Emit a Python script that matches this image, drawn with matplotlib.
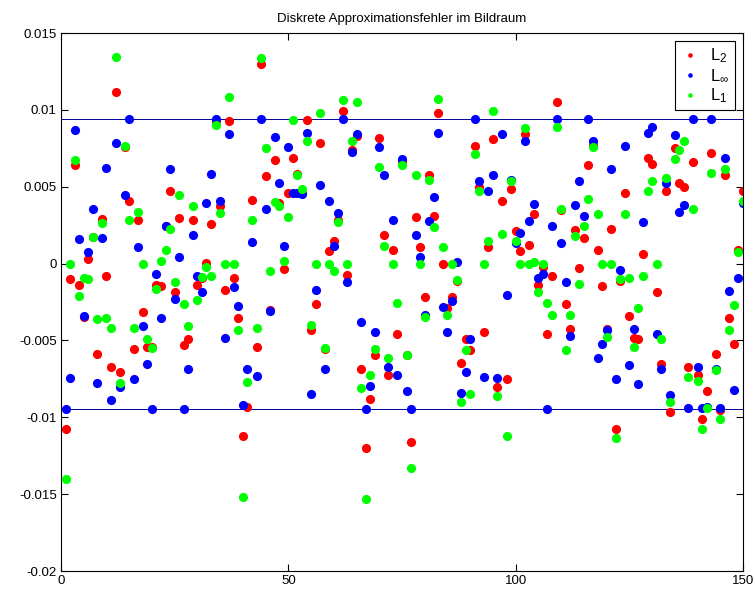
import numpy as np
import matplotlib
matplotlib.use("Agg")
import matplotlib.pyplot as plt

plt.rcParams['font.family'] = ['Liberation Sans', 'DejaVu Sans']
plt.rcParams['mathtext.default'] = 'regular'

# sample index 1..150
n = np.arange(1, 151)

# values in units of 1e-3
err_l2 = [-10.73, -1.00, 6.42, -1.39, -3.47, 0.27, 1.76, -5.87, 2.92, -0.80,
          -6.74, 11.14, -7.08, 7.60, 4.06, -5.57, 2.81, -3.17, -5.43, -5.41,
          -1.42, -1.48, 2.42, 4.70, -1.83, 2.99, -5.30, -4.91, 2.85, -1.42,
          -0.94, 0.05, 2.58, 9.27, 3.77, -1.71, 9.27, -0.96, -3.54, -11.23,
          -9.34, 4.16, -5.46, 13.01, 5.71, -3.01, 6.74, 3.95, -0.34, 4.61,
          6.87, 5.82, 4.57, 9.32, -4.34, -2.63, 7.83, -5.59, 0.82, 1.44,
          2.85, 9.93, -0.73, 7.37, 8.29, -6.83, -12.03, -8.84, -5.94, 8.17,
          1.89, -7.24, 0.87, -4.61, 6.69, -5.98, -11.58, 3.04, 1.05, -2.15,
          5.78, 3.08, 9.77, -0.05, -2.90, -2.15, -1.14, -6.48, -4.91, -5.64,
          7.65, 4.98, -4.45, 1.05, 8.11, -8.04, 4.06, -7.51, 4.86, 2.12,
          0.82, 8.40, 1.21, 3.22, -1.42, -0.23, -4.61, -0.80, 10.53, 3.49,
          -2.63, -4.27, 2.19, -0.27, 1.67, 6.42, 7.72, 0.87, -1.46, -4.27,
          2.28, -10.78, -1.14, 4.57, -3.42, -4.84, -4.89, 0.64, 6.85, 6.46,
          -1.87, -6.55, 4.75, -9.63, 7.53, 5.21, 4.98, -6.71, 6.58, -7.24,
          -10.09, -8.26, 7.21, -5.87, -9.52, 5.78, -3.52, -5.23, 0.91, 4.75]

err_linf = [-9.43, -7.47, 8.70, 1.60, -3.42, 0.73, 3.52, -7.79, 1.64, 6.23,
            -8.90, 7.83, -8.04, 4.47, 9.43, -7.53, 1.10, -4.09, -6.55, -9.43,
            -0.66, -3.52, 2.47, 6.16, -2.28, 0.41, -9.43, -6.89, 1.83, -0.84,
            -1.87, 3.97, 5.82, 9.43, 4.06, -4.84, 8.45, -1.53, -2.74, -9.18,
            -6.85, 1.42, -7.31, 9.43, 3.52, -3.08, 8.24, 5.21, 1.14, 7.60,
            4.57, 4.57, 4.52, 8.52, -8.49, -1.71, 5.09, -6.85, 4.06, 1.16,
            3.26, 9.43, -1.23, 7.26, 8.40, -3.77, -9.43, -7.99, -4.43, 7.60,
            5.78, -6.71, 2.85, -7.28, 6.80, -8.26, -9.43, 1.89, 0.46, -3.36,
            2.74, 4.36, 8.52, -2.85, -4.45, -2.44, 0.11, -8.45, -7.08, -4.89,
            9.43, 5.39, -7.40, 4.75, 5.78, -7.42, 8.40, -2.03, 5.43, 1.32,
            2.01, 7.95, 2.74, 3.90, -0.91, -0.68, -9.43, 2.47, 9.43, 1.32,
            -1.19, -4.73, 3.79, 5.39, 3.11, 9.43, 7.95, -6.16, -5.25, -4.32,
            6.12, -7.53, -0.39, 7.65, -6.60, -4.27, -7.85, 2.69, 8.47, 8.86,
            -4.61, -6.85, 5.21, -8.56, 8.36, 3.38, 3.84, -9.41, 9.43, -6.74,
            -9.41, -9.36, 9.43, -6.85, -9.41, 6.85, -1.76, -8.20, -0.91, 3.95]

err_l1 = [-14.00, 0.00, 6.76, -2.10, -0.91, -1.00, 1.76, -3.61, 2.65, -3.52,
          -4.16, 13.42, -7.76, 7.65, 2.81, -4.22, 3.38, 0.00, -4.91, -5.48,
          -1.64, 0.18, 0.87, 2.28, -1.19, 4.45, -2.63, -4.04, 3.72, -2.37,
          -0.87, -0.21, -0.80, 9.04, 3.26, 0.00, 10.84, 0.00, -4.32, -15.20,
          -7.69, 2.81, -4.22, 13.38, 7.49, -0.50, 4.02, 3.77, 0.18, 3.04,
          9.32, 5.73, 4.86, 7.95, -4.00, 0.00, 9.82, -5.48, 0.00, -0.50,
          2.72, 10.62, 0.00, 7.95, 10.53, -8.08, -15.30, -7.24, -5.53, 6.28,
          1.16, -6.14, 0.00, -2.56, 6.39, -5.94, -13.30, 5.78, 0.00, -3.47,
          5.43, 2.35, 10.68, 1.10, -3.36, 0.00, -1.07, -9.02, -5.64, -8.49,
          7.10, 4.70, 0.00, 1.48, 9.93, -8.61, 1.94, -11.23, 5.39, 1.48,
          0.00, 8.79, 0.00, 0.11, -1.83, 0.00, -2.56, -3.36, 8.86, 3.54,
          -5.64, -3.36, 1.78, -1.30, 2.47, 4.22, 7.56, 3.22, 0.00, -4.75,
          0.00, -11.35, -1.00, 3.20, -0.91, -5.41, -2.90, -0.84, 4.70, 5.37,
          0.00, -4.89, 5.55, -9.02, 6.80, 7.37, 7.95, -7.35, 3.56, -7.65,
          -10.78, -9.41, 5.89, -6.94, -10.09, 6.12, -4.32, -2.67, 0.75, 4.06]

bound = 9.43  # 1e-3

fig = plt.figure(figsize=(7.55, 5.90), dpi=100)
ax = fig.add_axes([61 / 755, 1 - 571 / 590, 682 / 755, 538 / 590])

ms = 6.6
ax.plot(n, np.array(err_l2) * 1e-3, 'o', color=(1, 0, 0), ms=ms, mew=0, label='$L_2$')
ax.plot(n, np.array(err_linf) * 1e-3, 'o', color=(0, 0, 1), ms=ms, mew=0, label=r'$L_\infty$')
ax.plot(n, np.array(err_l1) * 1e-3, 'o', color=(0, 1, 0), ms=ms, mew=0, label='$L_1$')

ax.axhline(bound * 1e-3, color=(0, 0, 0.6), lw=0.7, zorder=1)
ax.axhline(-bound * 1e-3, color=(0, 0, 0.6), lw=0.7, zorder=1)

ax.set_xlim(0, 150)
ax.set_ylim(-0.02, 0.015)
ax.set_xticks([0, 50, 100, 150])
yt = [-0.02, -0.015, -0.01, -0.005, 0, 0.005, 0.01, 0.015]
ax.set_yticks(yt)
ax.set_yticklabels(['-0.02', '-0.015', '-0.01', '-0.005', '0', '0.005', '0.01', '0.015'])
ax.tick_params(direction='in', top=True, right=True, labelsize=9.5, length=5, width=0.8, pad=3)
for s in ax.spines.values():
    s.set_linewidth(0.8)

ax.set_title('Diskrete Approximationsfehler im Bildraum', fontsize=9.5, pad=8)

leg = ax.legend(loc='upper right', fontsize=12, markerscale=0.5, handlelength=1.2,
                handletextpad=0.6, borderpad=0.3, labelspacing=0.15, fancybox=False,
                framealpha=1, edgecolor='black', borderaxespad=0.5)
leg.get_frame().set_linewidth(0.8)

fig.savefig('out.png', dpi=100)
